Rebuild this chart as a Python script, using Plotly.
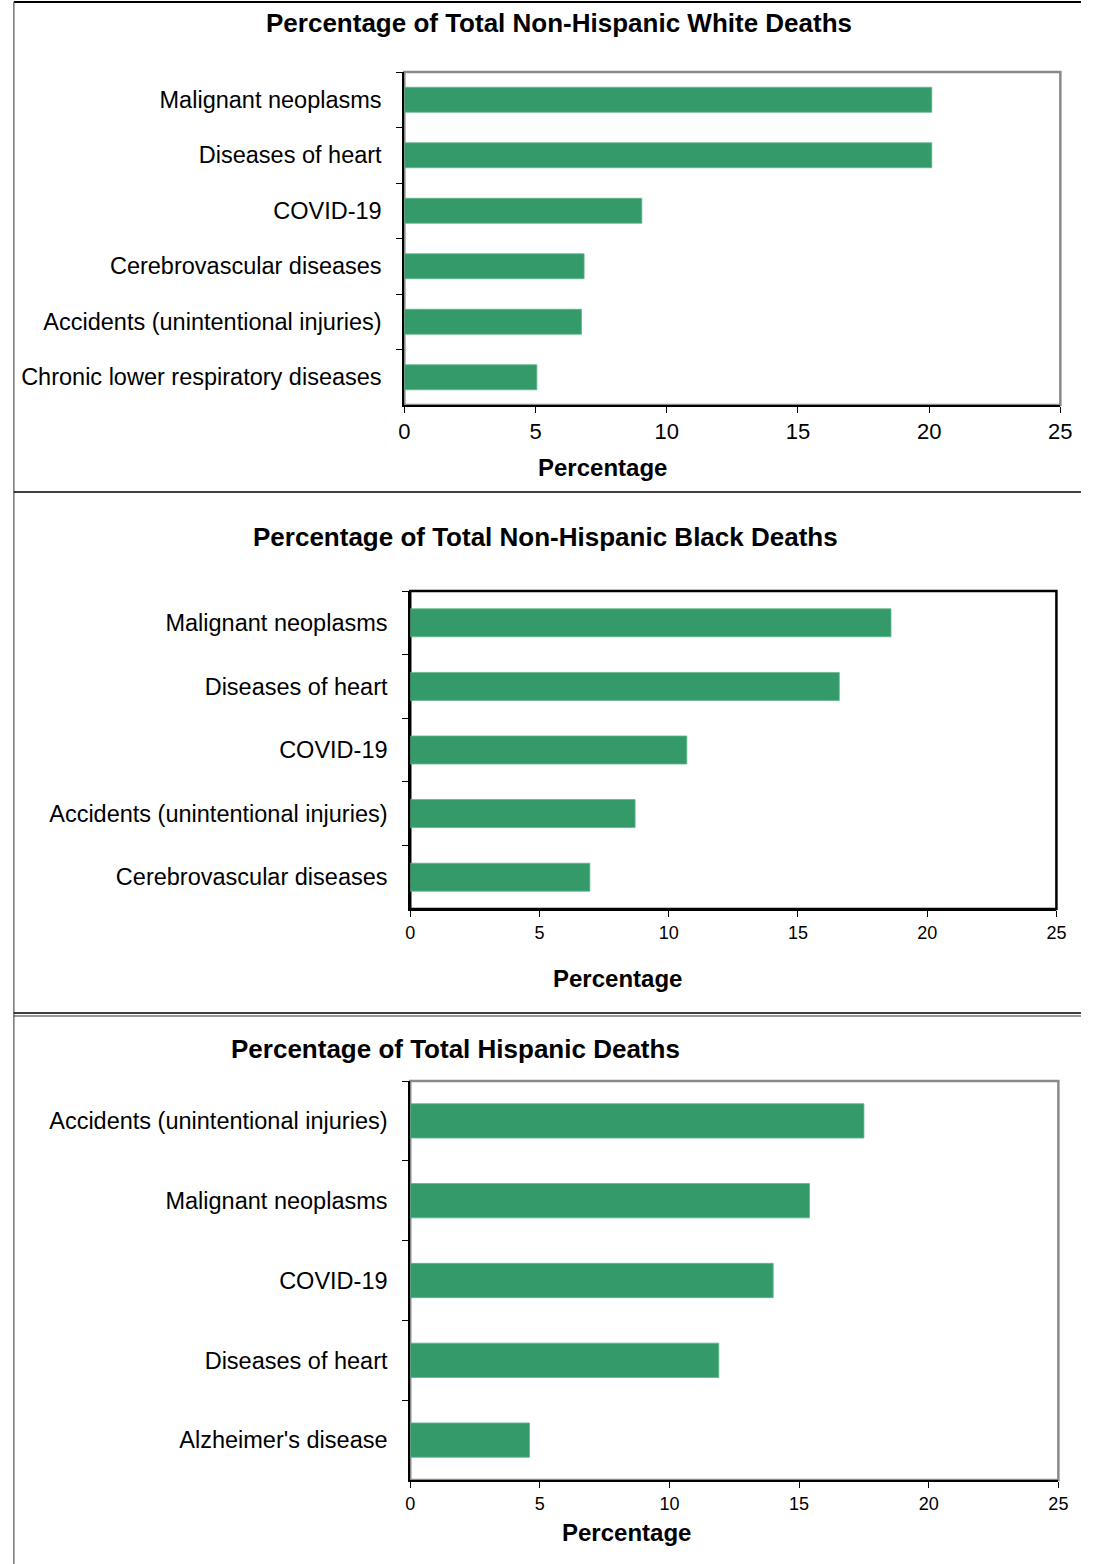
import plotly.graph_objects as go

W, H = 1093, 1564

white_cats = ["Malignant neoplasms", "Diseases of heart", "COVID-19",
              "Cerebrovascular diseases", "Accidents (unintentional injuries)",
              "Chronic lower respiratory diseases"]
white_vals = [20.1, 20.1, 9.05, 6.85, 6.75, 5.05]

black_cats = ["Malignant neoplasms", "Diseases of heart", "COVID-19",
              "Accidents (unintentional injuries)", "Cerebrovascular diseases"]
black_vals = [18.6, 16.6, 10.7, 8.7, 6.95]

hisp_cats = ["Accidents (unintentional injuries)", "Malignant neoplasms", "COVID-19",
             "Diseases of heart", "Alzheimer's disease"]
hisp_vals = [17.5, 15.4, 14.0, 11.9, 4.6]

titles = ["Percentage of Total Non-Hispanic White Deaths",
          "Percentage of Total Non-Hispanic Black Deaths",
          "Percentage of Total Hispanic Deaths"]
x_ticks = [0, 5, 10, 15, 20, 25]
axis_title = "Percentage"

FONT = "Liberation Sans, Arial, sans-serif"
GREEN = "#349A69"

def px(x):
    return x / W

def py(y):
    return 1 - y / H

# panel geometry in pixels: (x0, x1, ytop, ybottom)
panels = [
    dict(cats=white_cats, vals=white_vals, box=(405, 1072, 72, 405), tickfs=22,
         frame="#8a8a8a", bw=0.45, title_xy=(562, 23), atitle_xy=(606, 467)),
    dict(cats=black_cats, vals=black_vals, box=(411, 1068, 591, 909), tickfs=18,
         frame="black", bw=0.44, title_xy=(549, 537), atitle_xy=(622, 978)),
    dict(cats=hisp_cats, vals=hisp_vals, box=(411, 1070, 1081, 1480), tickfs=18,
         frame="#8a8a8a", bw=0.43, title_xy=(457, 1049), atitle_xy=(631, 1532)),
]

fig = go.Figure()
shapes = []
annotations = []
for i, p in enumerate(panels, start=1):
    sfx = "" if i == 1 else str(i)
    fig.add_trace(go.Bar(
        x=p["vals"], y=p["cats"], orientation="h",
        marker=dict(color=GREEN, line=dict(color="#5fb58c", width=0.8)),
        width=p["bw"], xaxis="x" + sfx, yaxis="y" + sfx, showlegend=False,
        hoverinfo="x+y",
    ))
    x0, x1, yt, yb = p["box"]
    fig.update_layout(**{
        "xaxis" + sfx: dict(
            domain=[px(x0), px(x1)], range=[0, 25], tickvals=x_ticks,
            anchor="y" + sfx, showgrid=False, zeroline=False,
            showline=True, linecolor="black", linewidth=2,
            ticks="outside", ticklen=6, tickcolor="black", tickwidth=1,
            tickfont=dict(family=FONT, size=p["tickfs"], color="black"),
            fixedrange=True,
        ),
        "yaxis" + sfx: dict(
            domain=[py(yb), py(yt)], type="category", autorange="reversed",
            categoryorder="array", categoryarray=p["cats"],
            anchor="x" + sfx, showgrid=False, zeroline=False,
            showline=True, linecolor="black", linewidth=2,
            ticks="outside", ticklen=6, tickcolor="black", tickwidth=1,
            tickson="boundaries", ticklabelstandoff=16,
            tickfont=dict(family=FONT, size=23.5, color="black"),
            fixedrange=True,
        ),
    })
    shapes.append(dict(type="rect", xref="paper", yref="paper",
                       x0=px(x0), x1=px(x1), y0=py(yb), y1=py(yt),
                       line=dict(color=p["frame"], width=2.5), layer="below"))
    tx, ty = p["title_xy"]
    annotations.append(dict(text="<b>" + titles[i - 1] + "</b>", x=px(tx), y=py(ty),
                            xref="paper", yref="paper", showarrow=False,
                            xanchor="center", yanchor="middle",
                            font=dict(family=FONT, size=26, color="black")))
    ax, ay = p["atitle_xy"]
    annotations.append(dict(text="<b>" + axis_title + "</b>", x=px(ax), y=py(ay),
                            xref="paper", yref="paper", showarrow=False,
                            xanchor="center", yanchor="middle",
                            font=dict(family=FONT, size=24, color="black")))

# outer frame lines
for (xa, ya, xb, yb_, w, c) in [(8, 2, W, 2, 2, "black"), (8, 2, 8, H, 1.2, "#555"),
                                (8, 492, W, 492, 1.5, "black"),
                                (8, 1013, W, 1013, 1.5, "black"),
                                (8, 1016, W, 1016, 1.2, "#333")]:
    shapes.append(dict(type="line", xref="paper", yref="paper",
                       x0=px(xa), y0=py(ya), x1=px(xb), y1=py(yb_),
                       line=dict(color=c, width=w)))

fig.update_layout(
    width=W, height=H, margin=dict(l=0, r=0, t=0, b=0),
    paper_bgcolor="white", plot_bgcolor="white",
    shapes=shapes, annotations=annotations,
    font=dict(family=FONT, color="black"),
    bargap=0.55,
)

css_js = (
    "document.documentElement.style.margin='0';"
    "document.documentElement.style.padding='0';"
    "document.documentElement.style.overflow='hidden';"
    "document.body.style.margin='0';"
    "document.body.style.padding='0';"
    "document.body.style.overflow='hidden';"
)
fig.write_html("out.html", config={"displayModeBar": False}, post_script=css_js)
